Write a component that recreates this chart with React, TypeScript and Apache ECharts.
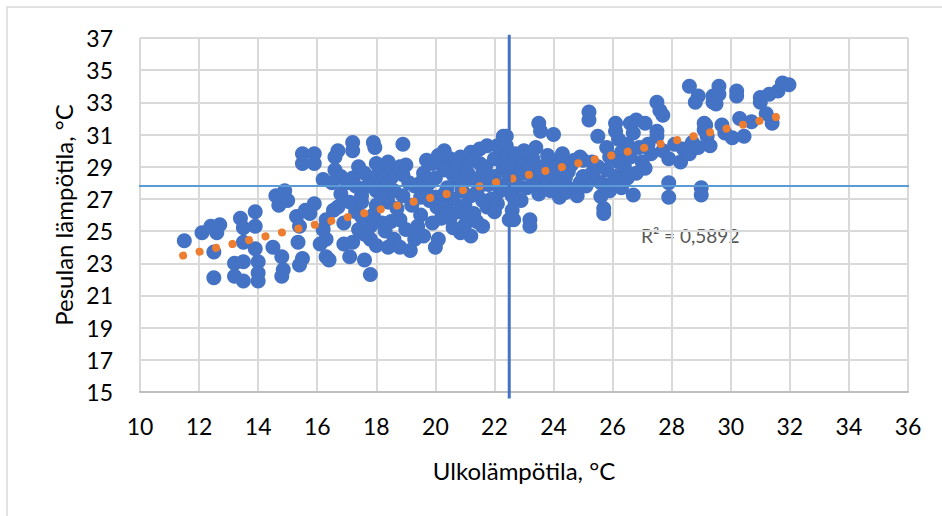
import { useEffect, useRef } from 'react'
import * as echarts from 'echarts'

// mittauspisteet: [ulkolämpötila, pesulan lämpötila]
const points: [number, number][] = [
  // 11–15 °C
  [11.5, 24.4], [12.1, 24.9], [12.5, 23.7], [12.5, 22.1], [12.4, 25.3], [12.7, 25.4], [12.6, 24.9],
  [13.4, 25.8], [13.9, 26.2], [13.5, 25.2], [13.9, 25.3], [13.5, 24.3], [13.9, 23.9], [13.2, 23.0],
  [13.5, 23.1], [13.2, 22.2], [13.5, 21.9], [14.0, 22.4], [14.0, 21.9], [14.0, 23.1], [14.5, 24.0],
  [14.8, 23.4], [14.85, 22.6], [14.8, 22.2], [14.6, 27.2], [14.9, 27.5], [14.7, 26.6], [15.0, 26.9],
  // 15–17 °C
  [15.3, 25.9], [15.6, 26.3], [15.9, 26.7], [15.4, 25.3], [15.35, 24.3], [15.5, 29.8], [15.9, 29.8],
  [15.5, 29.2], [15.9, 29.2], [16.2, 28.2], [16.3, 24.5], [16.3, 23.4], [15.5, 23.3], [15.4, 22.9],
  [16.7, 30.0], [16.6, 29.6], [16.6, 28.8], [15.75, 26.1], [16.55, 26.3], [16.3, 25.7], [16.2, 25.1],
  [16.1, 24.2], [16.4, 23.2], [16.9, 24.2], [16.9, 25.5], [16.7, 26.5], [16.5, 28.0], [16.8, 27.3],
  [16.8, 28.4],
  // 17–19 °C
  [17.2, 30.5], [17.2, 30.0], [17.9, 30.5], [17.95, 30.2], [18.9, 30.4], [17.2, 28.3], [17.3, 27.8],
  [18.1, 28.8], [18.5, 28.9], [18.8, 29.0], [19.0, 29.1], [17.8, 28.3], [18.2, 28.0], [18.5, 28.3],
  [18.9, 28.5], [17.7, 27.8], [18.0, 27.5], [18.3, 27.6], [17.1, 23.4], [17.6, 23.2], [17.8, 22.3],
  [17.8, 25.3], [18.2, 25.5], [17.8, 24.5], [18.4, 24.0], [18.8, 25.7], [19.0, 25.1], [19.3, 24.5],
  [19.15, 23.8], [17.3, 26.2], [17.5, 25.9], [18.0, 26.6], [18.4, 26.8], [18.7, 26.4], [18.2, 27.0],
  [17.6, 24.8], [18.6, 24.5], [17.2, 24.3], [17.5, 26.8], [18.6, 27.5], [18.9, 27.2], [18.3, 25.0],
  [17.4, 29.0], [17.0, 28.0], [17.6, 28.6], [18.4, 29.3], [18.0, 29.2], [17.1, 26.8], [17.9, 26.0],
  [18.5, 25.6], [17.4, 25.1], [18.0, 24.1], [18.8, 24.0], [17.5, 27.2],
  // 19–21 °C
  [19.3, 27.8], [19.5, 28.0], [19.7, 29.4], [19.9, 29.2], [20.2, 29.2], [20.3, 30.0], [20.5, 29.5],
  [20.85, 29.6], [19.6, 24.7], [20.0, 24.0], [19.8, 26.9], [20.05, 26.5], [20.4, 26.3], [20.85, 24.9],
  [21.2, 24.7], [19.6, 28.6], [20.0, 28.3], [20.3, 28.8], [20.7, 28.2], [21.0, 28.9], [19.5, 26.0],
  [19.9, 25.5], [20.2, 25.8], [20.6, 27.0], [20.9, 27.5], [20.4, 27.7], [19.7, 27.4], [21.0, 26.6],
  [20.1, 24.5], [20.6, 25.2], [19.4, 25.3], [20.0, 27.1], [20.7, 29.0], [21.1, 28.6], [20.3, 26.9],
  [20.1, 29.7], [20.6, 28.5], [20.9, 27.9], [20.5, 25.8], [21.0, 25.4], [19.8, 28.0], [20.3, 27.3],
  [19.1, 28.0], [19.2, 26.6], [19.5, 27.1], [20.8, 26.2],
  // 21–23 °C
  [21.2, 29.9], [21.5, 30.1], [21.75, 30.3], [22.1, 30.3], [22.4, 30.9], [22.2, 29.95], [21.1, 25.9],
  [21.3, 26.1], [21.75, 26.5], [22.1, 26.7], [22.5, 25.7], [22.3, 30.9], [22.4, 30.3], [22.4, 29.6],
  [22.6, 26.3], [22.65, 25.7], [21.4, 27.4], [21.8, 27.9], [22.0, 28.4], [22.3, 28.9], [21.6, 28.6],
  [22.7, 28.6], [22.9, 29.2], [21.3, 28.2], [22.2, 27.5], [22.6, 27.2], [21.9, 27.0], [21.5, 29.2],
  [22.8, 27.8], [22.9, 26.9], [21.3, 29.4], [21.7, 29.0], [22.0, 29.5], [21.5, 27.8], [21.8, 28.3],
  [21.2, 27.2], [21.6, 26.9], [22.0, 26.2], [21.4, 25.6], [21.6, 25.3], [22.7, 29.8], [22.5, 29.0],
  [22.4, 27.9], [22.5, 28.4],
  // 23–25 °C
  [23.2, 25.7], [23.2, 25.3], [23.5, 31.7], [23.56, 31.2], [24.0, 31.0], [23.3, 29.5], [23.6, 29.0],
  [23.9, 29.4], [24.2, 29.3], [24.5, 28.7], [23.4, 28.4], [23.8, 28.2], [24.1, 27.9], [24.6, 27.6],
  [24.9, 28.0], [23.5, 27.3], [24.2, 27.1], [23.1, 27.7], [24.7, 29.4], [24.4, 28.3], [23.7, 27.7],
  [25.0, 29.4], [23.0, 28.6], [23.2, 29.0], [23.5, 28.7], [23.8, 29.7], [24.3, 29.8], [24.6, 29.1],
  [24.9, 29.6], [24.0, 28.6], [23.3, 27.9], [23.9, 27.5], [24.4, 27.4], [24.8, 27.2], [23.0, 30.0],
  [23.4, 30.2],
  // 25–27 °C
  [25.2, 32.4], [25.2, 31.9], [25.5, 30.9], [26.1, 31.7], [26.1, 31.2], [26.6, 31.7], [26.8, 31.9],
  [27.1, 31.7], [26.7, 31.1], [26.1, 28.4], [26.7, 27.25], [25.7, 26.4], [25.7, 26.1], [25.6, 27.15],
  [25.4, 28.2], [25.8, 28.8], [25.3, 29.3], [25.9, 29.6], [26.3, 29.9], [26.5, 30.4], [26.9, 30.2],
  [26.2, 30.7], [25.6, 28.0], [26.4, 29.0], [26.8, 28.6], [25.1, 27.8], [25.3, 28.6], [25.0, 28.4],
  [25.5, 29.0], [25.8, 30.2], [26.2, 29.3], [26.6, 29.6], [26.0, 28.0], [26.5, 28.3], [27.0, 29.3],
  [27.1, 28.9], [25.9, 27.5], [26.3, 27.7],
  // 27–29 °C
  [27.5, 33.0], [27.6, 32.5], [27.7, 32.2], [27.5, 31.2], [27.5, 30.9], [28.6, 34.0], [28.9, 33.4],
  [28.8, 33.0], [29.1, 31.7], [29.1, 31.3], [27.9, 28.0], [27.9, 27.1], [29.0, 27.7], [29.0, 27.25],
  [27.3, 29.8], [27.7, 30.0], [28.1, 30.4], [28.4, 30.1], [28.7, 30.5], [27.2, 30.4], [27.9, 29.5],
  [28.3, 29.3], [28.6, 29.8], [28.9, 30.2],
  // 29–32 °C
  [29.4, 33.4], [29.4, 33.0], [29.6, 34.0], [29.6, 33.5], [29.5, 32.9], [30.2, 33.7], [30.2, 33.4],
  [31.0, 33.3], [31.0, 33.0], [31.3, 33.5], [31.6, 33.7], [31.75, 34.2], [31.97, 34.1], [29.15, 31.6],
  [29.2, 30.9], [29.3, 30.3], [29.7, 31.6], [29.8, 31.1], [30.05, 30.8], [30.3, 32.0], [30.45, 30.9],
  [30.7, 31.8], [31.2, 32.3], [31.4, 31.7],
]

// lineaarinen trendiviiva (alku- ja loppupiste)
const trend: [number, number][] = [[11.46, 23.48], [31.95, 32.27]]

// apuviivat
const hLine: [number, number][] = [[9.93, 27.8], [36.3, 27.8]]
const vLine: [number, number][] = [[22.5, 37.2], [22.5, 14.6]]

const xMin = 10
const xMax = 36
const yMin = 15
const yMax = 37

const font = 'Lato, "Open Sans", sans-serif'

export default function App() {
  const ref = useRef<HTMLDivElement>(null)

  useEffect(() => {
    if (!ref.current) return
    document.body.style.margin = '0'
    const chart = echarts.init(ref.current, undefined, { renderer: 'svg' })

    chart.setOption({
      animation: false,
      backgroundColor: '#fff',
      grid: { left: 140, right: 34, top: 38, bottom: 124 },
      xAxis: {
        type: 'value',
        min: xMin,
        max: xMax,
        interval: 2,
        name: 'Ulkolämpötila, °C',
        nameLocation: 'middle',
        nameGap: 66,
        nameTextStyle: { fontFamily: font, fontSize: 24, color: '#000' },
        axisLine: { show: true, onZero: false, lineStyle: { color: '#bfbfbf', width: 2 } },
        axisTick: { show: false },
        axisLabel: { fontFamily: font, fontSize: 23, color: '#000', margin: 22 },
        splitLine: { show: true, lineStyle: { color: '#d9d9d9', width: 2 } },
      },
      yAxis: {
        type: 'value',
        min: yMin,
        max: yMax,
        interval: 2,
        name: 'Pesulan lämpötila, °C',
        nameLocation: 'middle',
        nameGap: 64,
        nameTextStyle: { fontFamily: font, fontSize: 24, color: '#000' },
        axisLine: { show: false },
        axisTick: { show: false },
        axisLabel: { fontFamily: font, fontSize: 23, color: '#000', margin: 27 },
        splitLine: { show: true, lineStyle: { color: '#d9d9d9', width: 2 } },
      },
      graphic: [
        {
          type: 'rect',
          shape: { x: 7, y: 7, width: 960, height: 540 },
          style: { fill: 'none', stroke: '#d9d9d9', lineWidth: 1.5 },
          silent: true,
        },
        {
          type: 'text',
          left: 641,
          top: 226,
          style: { text: 'R² = 0,5892', fontFamily: font, fontSize: 19, fill: '#595959' },
        },
      ],
      series: [
        {
          type: 'scatter',
          data: points,
          symbolSize: 15,
          itemStyle: { color: '#4472c4', opacity: 1 },
        },
        {
          type: 'line',
          data: trend,
          symbol: 'none',
          lineStyle: { color: '#ed7d31', width: 8, type: [0.01, 16.9], cap: 'round' },
        },
        {
          type: 'line',
          data: hLine,
          symbol: 'none',
          clip: false,
          lineStyle: { color: '#5b9bd5', width: 2 },
        },
        {
          type: 'line',
          data: vLine,
          symbol: 'none',
          clip: false,
          lineStyle: { color: '#4472c4', width: 3 },
        },
      ],
    })

    return () => chart.dispose()
  }, [])

  return <div ref={ref} style={{ width: 942, height: 516 }} />
}
